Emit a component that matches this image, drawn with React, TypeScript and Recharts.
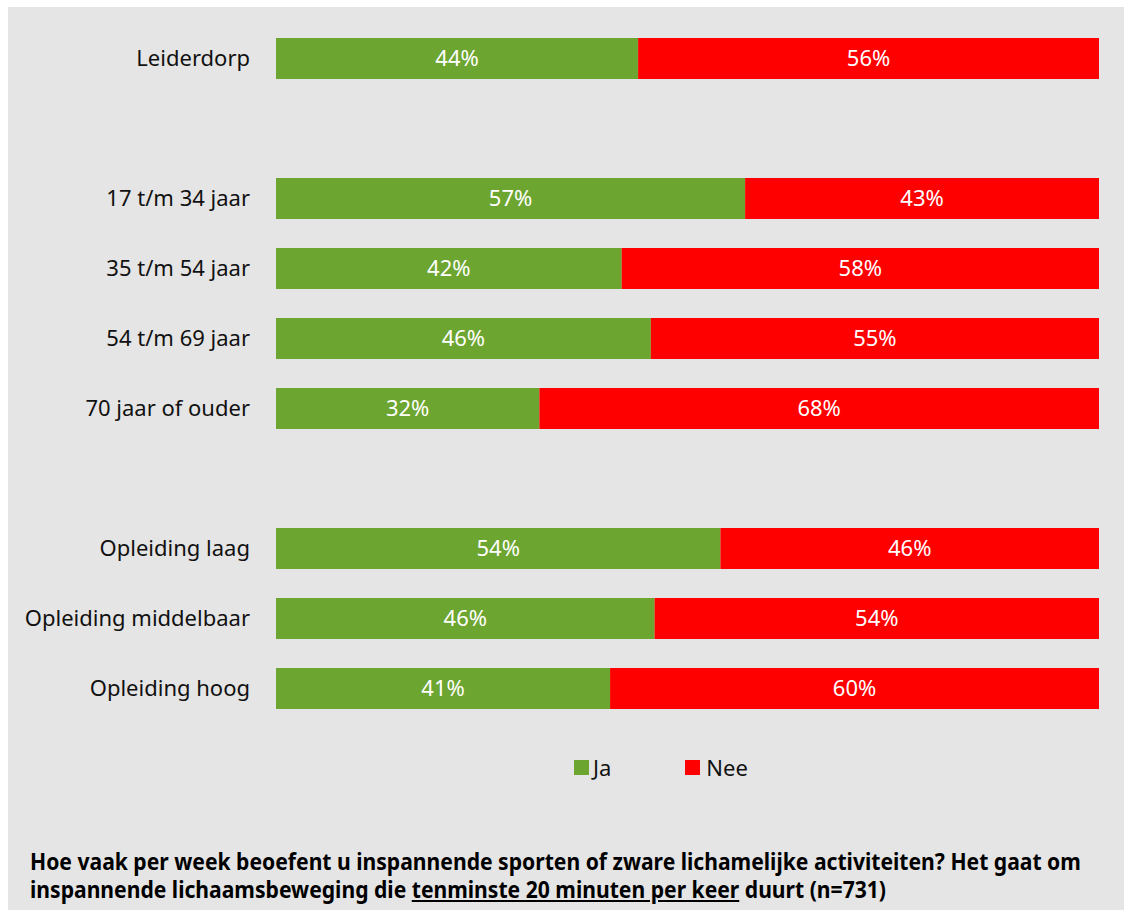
import { Bar, BarChart, LabelList, XAxis, YAxis } from "recharts";

const categories = [
  "Leiderdorp",
  "",
  "17 t/m 34 jaar",
  "35 t/m 54 jaar",
  "54 t/m 69 jaar",
  "70 jaar of ouder",
  " ",
  "Opleiding laag",
  "Opleiding middelbaar",
  "Opleiding hoog",
];
const ja = [44, null, 57, 42, 46, 32, null, 54, 46, 41];
const nee = [56, null, 43, 58, 55, 68, null, 46, 54, 60];

const GREEN = "#6ca52f";
const RED = "#ff0000";
const BG = "#e5e5e5";
const FONT = "'Noto Sans', 'Open Sans', sans-serif";

const data = categories.map((c, i) => ({ name: c, ja: ja[i], nee: nee[i] }));

const pct = (v: unknown) => (v == null || v === 0 ? "" : `${v}%`);

const noteStyle = {
  position: "absolute" as const,
  left: 22,
  fontWeight: 700,
  fontSize: 23,
  lineHeight: "26px",
  color: "#000",
  whiteSpace: "nowrap" as const,
  transform: "scaleX(0.918)",
  transformOrigin: "left top",
};

export default function App() {
  return (
    <>
      <style>{`html,body{margin:0;padding:0;overflow:hidden;background:#fff}`}</style>
      <div
        style={{
          position: "absolute",
          left: 8,
          top: 7,
          width: 1116,
          height: 903,
          background: BG,
          fontFamily: FONT,
        }}
      >
        <BarChart
          width={1116}
          height={730}
          data={data}
          layout="vertical"
          stackOffset="expand"
          margin={{ top: 16, right: 25, bottom: 14, left: 0 }}
        >
          <XAxis type="number" hide domain={[0, 1]} />
          <YAxis
            type="category"
            dataKey="name"
            width={268}
            axisLine={false}
            tickLine={false}
            tickSize={0}
            tickMargin={26}
            tick={{ fill: "#111", fontSize: 22, fontFamily: FONT }}
          />
          <Bar dataKey="ja" stackId="a" fill={GREEN} barSize={41} isAnimationActive={false}>
            <LabelList
              dataKey="ja"
              position="center"
              formatter={pct}
              fill="#fff"
              fontSize={22}
              fontFamily={FONT}
            />
          </Bar>
          <Bar dataKey="nee" stackId="a" fill={RED} barSize={41} isAnimationActive={false}>
            <LabelList
              dataKey="nee"
              position="center"
              formatter={pct}
              fill="#fff"
              fontSize={22}
              fontFamily={FONT}
            />
          </Bar>
        </BarChart>

        <div style={{ position: "absolute", left: 566, top: 745, display: "flex", alignItems: "center", fontSize: 22, color: "#111" }}>
          <span style={{ width: 15, height: 15, background: GREEN, display: "inline-block" }} />
          <span style={{ marginLeft: 4 }}>Ja</span>
          <span style={{ width: 15, height: 15, background: RED, display: "inline-block", marginLeft: 74 }} />
          <span style={{ marginLeft: 6 }}>Nee</span>
        </div>

        <div style={{ ...noteStyle, top: 841 }}>
          Hoe vaak per week beoefent u inspannende sporten of zware lichamelijke activiteiten? Het gaat om
        </div>
        <div style={{ ...noteStyle, top: 869 }}>
          inspannende lichaamsbeweging die <u>tenminste 20 minuten per keer</u> duurt (n=731)
        </div>
      </div>
    </>
  );
}
